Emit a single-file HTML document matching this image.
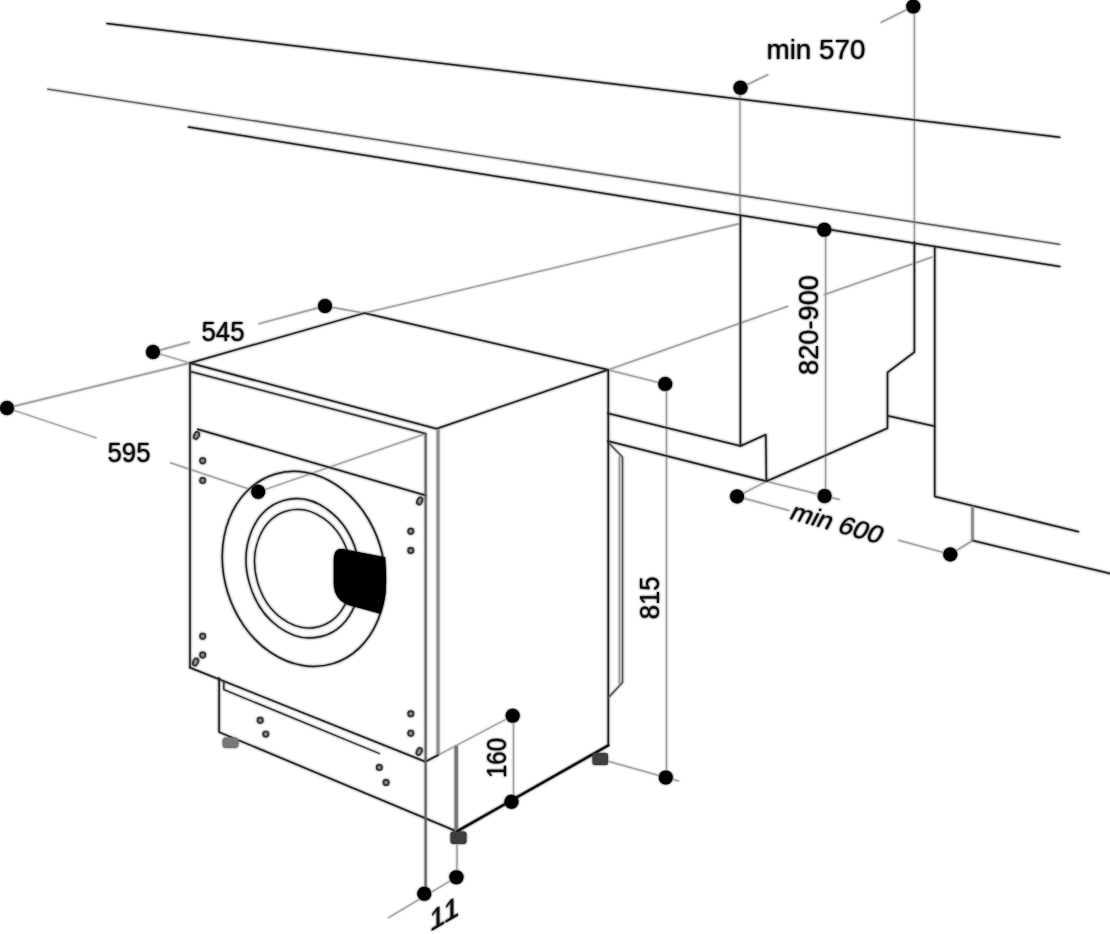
<!DOCTYPE html>
<html>
<head>
<meta charset="utf-8">
<title>Built-in washing machine dimensions</title>
<style>
html,body{margin:0;padding:0;background:#fff;}
body{width:1110px;height:934px;overflow:hidden;}
svg{display:block;}
.k{stroke:#262626;stroke-width:1.5;fill:none;stroke-linecap:round;stroke-linejoin:round;}
.k2{stroke:#111;stroke-width:2.2;fill:none;stroke-linecap:round;stroke-linejoin:round;}
.m{stroke:#555;stroke-width:1.4;fill:none;stroke-linecap:round;}
.g{stroke:#888;stroke-width:2.4;fill:none;}
.t{stroke:#a0a0a0;stroke-width:1.3;fill:none;}
.d{fill:#000;stroke:none;}
.s{stroke:#3a3a3a;stroke-width:1.7;fill:#888;}
text{font-family:"Liberation Sans","DejaVu Sans",sans-serif;font-size:27px;fill:#111;}
</style>
</head>
<body>
<svg width="1110" height="934" viewBox="0 0 1110 934">
<defs><filter id="soft" x="0" y="0" width="1110" height="934" filterUnits="userSpaceOnUse"><feGaussianBlur stdDeviation="0.8" result="b"/><feMerge><feMergeNode in="b"/><feMergeNode in="SourceGraphic"/></feMerge></filter></defs>
<rect width="1110" height="934" fill="#fff"/>
<g filter="url(#soft)">

<!-- thin dimension / projection lines -->
<g class="t" id="thin">
  <line x1="7" y1="408" x2="190" y2="363"/>
  <line x1="7" y1="408" x2="96.7" y2="438"/>
  <line x1="170" y1="462.6" x2="258" y2="492"/>
  <line x1="153" y1="352" x2="190" y2="363"/>
  <line x1="153" y1="352" x2="190" y2="342"/>
  <line x1="258.3" y1="323.8" x2="325" y2="306"/>
  <line x1="325" y1="306" x2="364.2" y2="313.1"/>
  <line x1="364.2" y1="313.1" x2="740" y2="223.5"/>
  <line x1="258" y1="492" x2="426" y2="433.7"/>
  <line x1="608.1" y1="369.8" x2="788.3" y2="306.1"/>
  <line x1="823.6" y1="294.8" x2="932.7" y2="256.8"/>
  <line x1="608.1" y1="369.8" x2="665" y2="384.1"/>
  <line x1="666.5" y1="384" x2="666.5" y2="777.5"/>
  <line x1="679" y1="781.2" x2="600" y2="759"/>
  <line x1="740" y1="88" x2="740" y2="216"/>
  <line x1="914.4" y1="6" x2="914.4" y2="242"/>
  <line x1="740.5" y1="87.8" x2="768.3" y2="74.4"/>
  <line x1="913.3" y1="6.3" x2="880.6" y2="22.7"/>
  <line x1="825.6" y1="229.7" x2="825.6" y2="496"/>
  <line x1="766.6" y1="481.3" x2="737.1" y2="496.4"/>
  <line x1="766.6" y1="481.3" x2="840" y2="499.7"/>
  <line x1="737.1" y1="496.4" x2="789.3" y2="510.6"/>
  <line x1="898.1" y1="540.2" x2="950.3" y2="554.4"/>
  <line x1="950.3" y1="554.4" x2="972.5" y2="540.6"/>
  <line x1="513.5" y1="715.7" x2="513.5" y2="801.7"/>
  <line x1="512.7" y1="715.7" x2="425.5" y2="761.7"/>
  <line x1="457" y1="843" x2="457" y2="877"/>
  <line x1="456.4" y1="877.3" x2="388" y2="918"/>
</g>

<!-- worktop lines -->
<line class="k" x1="106.9" y1="23.5" x2="1059.8" y2="137.2"/>
<line class="m" x1="47.7" y1="89.1" x2="1059.8" y2="244.4" style="stroke:#606060;stroke-width:1.3"/>
<line class="k" x1="188.4" y1="126.9" x2="1059.8" y2="266.5"/>

<!-- cabinet -->
<g class="k" id="cab">
  <line x1="740.4" y1="215.5" x2="740.4" y2="446"/>
  <line x1="607.7" y1="413.2" x2="740.6" y2="446"/>
  <polyline points="740.6,446 765.8,434.6 766.4,481.3"/>
  <line x1="607.7" y1="440.9" x2="766.6" y2="481.3"/>
  <polyline points="766.6,481.3 887.5,428.3 887.5,372.3 914.4,352.1 914.4,241.8"/>
  <line x1="887.5" y1="415.7" x2="934.7" y2="426.3"/>
  <polyline points="934.7,246.5 934.7,496.4 1078.5,531.7"/>
  <line x1="972.5" y1="540.6" x2="1110" y2="573.4"/>
</g>
<line class="g" x1="972.5" y1="506" x2="972.5" y2="540.6" style="stroke-width:2.3"/>

<!-- machine body -->
<g class="k" id="body">
  <polygon points="190,363 364.2,313.1 608.1,369.8 436.6,428.8"/>
  <line x1="190" y1="363" x2="190" y2="667.5"/>
  <line x1="190.5" y1="371.5" x2="426" y2="433.7" style="stroke:#3a3a3a;stroke-width:1.5"/>
  <line x1="197.7" y1="429.2" x2="426" y2="495.5"/>
  <line x1="189.6" y1="667.5" x2="425.5" y2="761.7"/>
  <line x1="425.5" y1="761.7" x2="438.2" y2="755"/>
  <line x1="608.3" y1="369.8" x2="608.3" y2="745.4"/>
  <polyline points="219.1,677.8 219.1,732.1 457,831.5"/>
</g>
<polyline class="m" points="223.8,681.6 223.8,689.6 379.3,753.5" style="stroke:#333;stroke-width:1.3"/>
<line class="m" x1="425.6" y1="433.7" x2="425.6" y2="893.7" style="stroke:#666;stroke-width:1.9"/>
<line class="g" x1="438" y1="429" x2="438" y2="754" style="stroke:#909090;stroke-width:2.8"/>
<line class="g" x1="456.2" y1="746" x2="456.2" y2="831" style="stroke:#777;stroke-width:3.2"/>
<line class="k2" x1="457.1" y1="831.2" x2="608.3" y2="745.4"/>

<!-- hose -->
<g class="m" id="hose">
  <polyline points="609.4,443.4 622.5,457.3 622.5,682.4 608.5,697.5"/>
  <line x1="619.4" y1="457" x2="619.4" y2="685" style="stroke:#999"/>
</g>

<!-- feet -->
<rect x="222.5" y="737.5" width="16" height="10.5" rx="3.5" fill="#777"/>
<rect x="450.5" y="831.5" width="16" height="12.5" rx="3" fill="#3c3c3c"/>
<rect x="592.5" y="753" width="15.5" height="12" rx="2.5" fill="#404040"/>

<!-- door -->
<g class="k" id="door">
  <ellipse cx="303.8" cy="568.9" rx="99.1" ry="79.7" transform="rotate(72.9 303.8 568.9)"/>
  <ellipse cx="303.1" cy="568.3" rx="70.6" ry="55.8" transform="rotate(74.3 303.1 568.3)" style="stroke-width:1.4"/>
  <ellipse cx="303.1" cy="568.7" rx="60.1" ry="47.5" transform="rotate(74.6 303.1 568.7)" style="stroke-width:1.3"/>
</g>
<path d="M342,549.6 L384.6,557.8 Q386,578 384.6,596 Q383,606 380,613 L347,603.8 Q335.5,599 334.4,585 L334.4,559 Q334.6,549 342,549.6 Z" fill="#000" stroke="#000" stroke-width="1.2" stroke-linejoin="round"/>

<!-- screws -->
<g class="s" id="screws">
  <circle cx="202.7" cy="460.7" r="2.6"/><circle cx="202.7" cy="480.4" r="2.6"/>
  <circle cx="202.7" cy="636.3" r="2.6"/><circle cx="202.7" cy="655" r="2.6"/>
  <circle cx="410.8" cy="531.3" r="2.6"/><circle cx="410.8" cy="550.5" r="2.6"/>
  <circle cx="410.8" cy="713.7" r="2.6"/><circle cx="410.8" cy="733.3" r="2.6"/>
  <circle cx="260.2" cy="720.2" r="2.6"/><circle cx="265.8" cy="734.1" r="2.6"/>
  <circle cx="379.3" cy="767.4" r="2.6"/><circle cx="386.1" cy="782.5" r="2.6"/>
  <ellipse cx="196.5" cy="435.5" rx="2.4" ry="3.6" transform="rotate(25 196.5 435.5)"/>
  <ellipse cx="419.7" cy="501" rx="2.4" ry="3.6" transform="rotate(25 419.7 501)"/>
  <ellipse cx="195.6" cy="662" rx="2.4" ry="3.6" transform="rotate(25 195.6 662)"/>
  <ellipse cx="419.2" cy="751.5" rx="2.4" ry="3.6" transform="rotate(25 419.2 751.5)"/>
</g>

<!-- dots -->
<g class="d" id="dots">
  <circle cx="7" cy="408" r="7"/>
  <circle cx="153" cy="352" r="7"/>
  <circle cx="325" cy="306" r="7"/>
  <circle cx="258.2" cy="491.8" r="7"/>
  <circle cx="665.2" cy="384.1" r="7"/>
  <circle cx="665.8" cy="777.5" r="7"/>
  <circle cx="740.5" cy="87.8" r="7"/>
  <circle cx="913.3" cy="6.5" r="7"/>
  <circle cx="824.3" cy="229.7" r="7"/>
  <circle cx="824.6" cy="496" r="7"/>
  <circle cx="737.1" cy="496.4" r="7"/>
  <circle cx="950.3" cy="554.4" r="7"/>
  <circle cx="512.7" cy="715.7" r="7"/>
  <circle cx="511.5" cy="801.7" r="7"/>
  <circle cx="456.4" cy="877.3" r="7"/>
  <circle cx="424.3" cy="893.7" r="7"/>
</g>

<!-- labels -->
<g id="labels">
  <text x="223" y="340.5" text-anchor="middle" textLength="43" lengthAdjust="spacingAndGlyphs">545</text>
  <text x="129" y="461.5" text-anchor="middle" textLength="43" lengthAdjust="spacingAndGlyphs">595</text>
  <text x="766.5" y="58.5" textLength="99" lengthAdjust="spacingAndGlyphs">min 570</text>
  <text transform="translate(818.3 325) rotate(-90)" text-anchor="middle" textLength="100" lengthAdjust="spacingAndGlyphs">820-900</text>
  <text transform="translate(659.3 597.8) rotate(-90)" text-anchor="middle" textLength="43" lengthAdjust="spacingAndGlyphs">815</text>
  <text transform="translate(505.6 758) rotate(-90)" text-anchor="middle" textLength="40" lengthAdjust="spacingAndGlyphs">160</text>
  <text transform="translate(788 518.5) rotate(15.5) skewX(-12)" style="font-size:25px" textLength="94" lengthAdjust="spacingAndGlyphs">min 600</text>
  <text transform="translate(429.5 932) skewY(-30)" style="font-size:29px" textLength="30" lengthAdjust="spacingAndGlyphs">11</text>
</g>
</g>
</svg>
</body>
</html>
